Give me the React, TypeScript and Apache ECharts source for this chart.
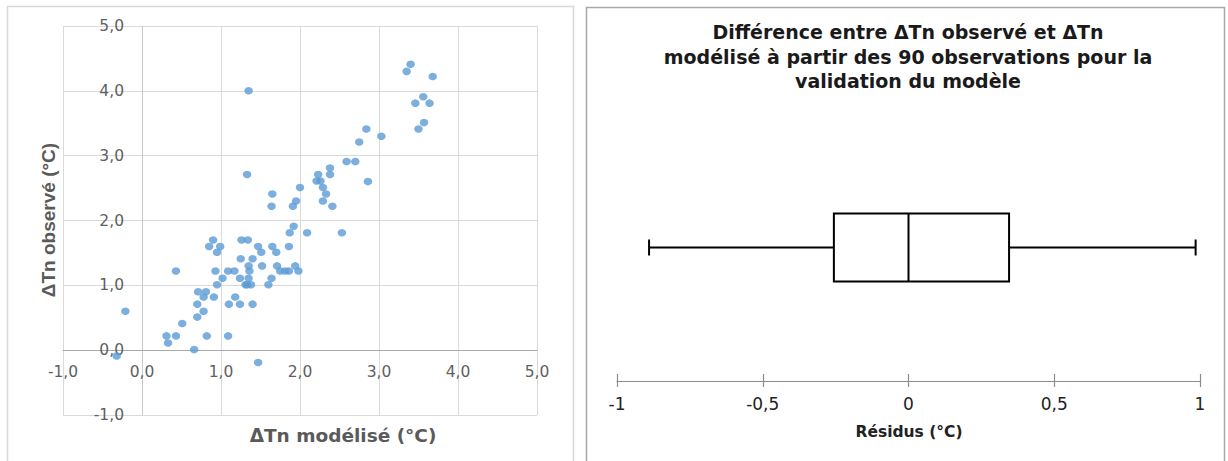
import React, { useEffect, useRef } from "react";
import * as echarts from "echarts";

const modeledX = [
  3.40, 3.35, 3.68, 1.35, 3.56, 3.46, 3.64, 3.57, 3.50, 2.84,
  3.03, 2.75, 2.59, 2.70, 2.38, 2.38, 2.86, 1.33, 2.23, 2.21,
  2.26, 2.29, 2.33, 2.29, 2.41, 1.65, 1.64, 2.00, 1.95, 1.91,
  1.92, 1.87, 2.09, 2.53, 0.90, 1.26, 1.34, 0.85, 0.99, 0.95,
  1.47, 1.51, 1.65, 1.70, 1.86, 1.25, 1.40, 1.35, 1.52, 1.71,
  1.94, 0.43, 0.93, 1.09, 1.17, 1.36, 1.75, 1.81, 1.86, 1.98,
  1.02, 1.24, 1.35, 1.64, 0.95, 1.31, 1.38, 1.60, 0.71, 0.81,
  0.78, 0.91, 1.18, 0.70, 1.10, 1.24, 1.40, -0.21, 0.78, 0.70,
  0.51, 0.31, 0.43, 0.82, 1.09, 0.33, 0.66, -0.32, 1.47, 1.33,
];
const observedY = [
  4.41, 4.30, 4.22, 4.00, 3.91, 3.81, 3.81, 3.51, 3.41, 3.41,
  3.30, 3.21, 2.91, 2.91, 2.81, 2.71, 2.60, 2.71, 2.71, 2.61,
  2.61, 2.51, 2.41, 2.30, 2.22, 2.41, 2.22, 2.51, 2.30, 2.22,
  1.91, 1.81, 1.81, 1.81, 1.70, 1.70, 1.70, 1.60, 1.60, 1.51,
  1.60, 1.51, 1.60, 1.51, 1.60, 1.41, 1.41, 1.30, 1.30, 1.30,
  1.30, 1.22, 1.22, 1.22, 1.22, 1.22, 1.22, 1.22, 1.22, 1.22,
  1.11, 1.11, 1.11, 1.11, 1.01, 1.01, 1.01, 1.01, 0.90, 0.90,
  0.82, 0.82, 0.82, 0.71, 0.71, 0.71, 0.71, 0.60, 0.60, 0.51,
  0.41, 0.22, 0.22, 0.22, 0.22, 0.11, 0.01, -0.09, -0.19, 1.01,
];

// Boîte à moustaches des résidus : min, Q1, médiane, Q3, max
const residualCategories = ["Résidus"];
const residualStats = [-0.89, -0.256, 0.0, 0.345, 0.985];

const scatterAxisMin = -1;
const scatterAxisMax = 5;
const scatterInterval = 1;
const residualAxisMin = -1;
const residualAxisMax = 1;
const residualInterval = 0.5;

const scatterXName = "ΔTn modélisé (°C)";
const scatterYName = "ΔTn observé (°C)";
const residualTitle =
  "Différence entre ΔTn observé et ΔTn\nmodélisé à partir des 90 observations pour la\nvalidation du modèle";
const residualXName = "Résidus (°C)";

const WIDE_BOLD = "'DejaVu Sans', sans-serif";
const NARROW_BOLD = "'Liberation Sans', Arial, sans-serif";
const TICK_FONT = "'DejaVu Sans', sans-serif";

// scatter grid geometry
const G0 = { left: 63, top: 26, width: 474, height: 389 };

export default function App() {
  const ref = useRef<HTMLDivElement>(null);

  useEffect(() => {
    if (!ref.current) return;
    const chart = echarts.init(ref.current, null, { renderer: "svg" });

    const points = modeledX.map((x, i) => [x, observedY[i]]);
    const fmt1 = (v: number) => v.toFixed(1).replace(".", ",");
    const fmtRes = (v: number) => (v === 0 ? "0" : String(v).replace(".", ","));

    // shift the axes so they sit on the other axis' zero
    const span = scatterAxisMax - scatterAxisMin;
    const xAxisOffset = -((0 - scatterAxisMin) / span) * G0.height;
    const yAxisOffset = -((0 - scatterAxisMin) / span) * G0.width;

    chart.setOption({
      animation: false,
      backgroundColor: "#ffffff",
      title: {
        text: residualTitle,
        left: 908,
        top: 20,
        textAlign: "center",
        padding: 0,
        textStyle: {
          fontFamily: WIDE_BOLD,
          fontSize: 19,
          fontWeight: "bold",
          color: "#1a1a1a",
          lineHeight: 24.5,
        },
      },
      grid: [
        { ...G0 },
        { left: 617, top: 114, width: 583, height: 267 },
      ],
      xAxis: [
        {
          gridIndex: 0,
          type: "value",
          position: "bottom",
          offset: xAxisOffset,
          min: scatterAxisMin,
          max: scatterAxisMax,
          interval: scatterInterval,
          axisLine: { onZero: false, lineStyle: { color: "#a8a8a8", width: 1 } },
          axisTick: { show: false },
          splitLine: { lineStyle: { color: "#dadada", width: 1 } },
          axisLabel: {
            formatter: fmt1,
            color: "#5f5f5f",
            fontSize: 15.5,
            fontFamily: TICK_FONT,
            margin: 14,
          },
        },
        {
          gridIndex: 1,
          type: "value",
          position: "bottom",
          min: residualAxisMin,
          max: residualAxisMax,
          interval: residualInterval,
          axisLine: { show: true, lineStyle: { color: "#8c8c8c", width: 1.2 } },
          axisTick: { show: true, length: 6, lineStyle: { color: "#8c8c8c", width: 1.2 } },
          splitLine: { show: false },
          axisLabel: {
            formatter: fmtRes,
            color: "#222222",
            fontSize: 17,
            fontFamily: TICK_FONT,
            margin: 14,
          },
        },
        {
          gridIndex: 1,
          type: "value",
          position: "bottom",
          min: residualAxisMin,
          max: residualAxisMax,
          interval: residualInterval,
          axisLine: { show: false },
          axisTick: { show: true, inside: true, length: 7, lineStyle: { color: "#8c8c8c", width: 1.2 } },
          splitLine: { show: false },
          axisLabel: { show: false },
        },
      ],
      yAxis: [
        {
          gridIndex: 0,
          type: "value",
          position: "left",
          offset: yAxisOffset,
          min: scatterAxisMin,
          max: scatterAxisMax,
          interval: scatterInterval,
          axisLine: { show: true, onZero: false, lineStyle: { color: "#c8c8c8", width: 1 } },
          axisTick: { show: false },
          splitLine: { lineStyle: { color: "#dadada", width: 1 } },
          axisLabel: {
            formatter: fmt1,
            color: "#5f5f5f",
            fontSize: 15.5,
            fontFamily: TICK_FONT,
            margin: 18,
          },
        },
        {
          gridIndex: 1,
          type: "category",
          data: residualCategories,
          show: false,
        },
      ],
      graphic: [
        {
          type: "rect",
          shape: { x: 7.5, y: 6.5, width: 566, height: 470 },
          style: { fill: "none", stroke: "#d9d9d9", lineWidth: 1.5 },
          silent: true,
          z: -10,
        },
        {
          type: "rect",
          shape: { x: 586.5, y: 7.5, width: 638, height: 470 },
          style: { fill: "none", stroke: "#a8a8a8", lineWidth: 1.5 },
          silent: true,
          z: -10,
        },
        {
          type: "text",
          x: 343,
          y: 435,
          style: {
            text: scatterXName,
            fontFamily: WIDE_BOLD,
            fontSize: 18.5,
            fontWeight: "bold",
            fill: "#5a5a5a",
            textAlign: "center",
            textVerticalAlign: "middle",
          },
        },
        {
          type: "text",
          x: 48,
          y: 220,
          rotation: Math.PI / 2,
          style: {
            text: scatterYName,
            fontFamily: NARROW_BOLD,
            fontSize: 19,
            fontWeight: "bold",
            fill: "#5a5a5a",
            textAlign: "center",
            textVerticalAlign: "middle",
          },
        },
        {
          type: "text",
          x: 909,
          y: 432,
          style: {
            text: residualXName,
            fontFamily: WIDE_BOLD,
            fontSize: 15.5,
            fontWeight: "bold",
            fill: "#222222",
            textAlign: "center",
            textVerticalAlign: "middle",
          },
        },
      ],
      series: [
        {
          type: "scatter",
          xAxisIndex: 0,
          yAxisIndex: 0,
          data: points,
          symbol: "circle",
          symbolSize: [8.5, 7.5],
          itemStyle: { color: "#5b9bd5" },
        },
        {
          type: "custom",
          xAxisIndex: 1,
          yAxisIndex: 1,
          data: [[0, ...residualStats]],
          encode: { x: [1, 2, 3, 4, 5], y: 0 },
          renderItem: (params: any, api: any) => {
            const cat = api.value(0);
            const pMin = api.coord([api.value(1), cat]);
            const pQ1 = api.coord([api.value(2), cat]);
            const pMed = api.coord([api.value(3), cat]);
            const pQ3 = api.coord([api.value(4), cat]);
            const pMax = api.coord([api.value(5), cat]);
            const cy = pMed[1];
            const halfBox = 34;
            const halfCap = 8;
            const st = { stroke: "#000000", lineWidth: 2, fill: "none" };
            return {
              type: "group",
              children: [
                { type: "line", shape: { x1: pMin[0], y1: cy, x2: pQ1[0], y2: cy }, style: st },
                { type: "line", shape: { x1: pQ3[0], y1: cy, x2: pMax[0], y2: cy }, style: st },
                { type: "line", shape: { x1: pMin[0], y1: cy - halfCap, x2: pMin[0], y2: cy + halfCap }, style: st },
                { type: "line", shape: { x1: pMax[0], y1: cy - halfCap, x2: pMax[0], y2: cy + halfCap }, style: st },
                {
                  type: "rect",
                  shape: { x: pQ1[0], y: cy - halfBox, width: pQ3[0] - pQ1[0], height: halfBox * 2 },
                  style: st,
                },
                { type: "line", shape: { x1: pMed[0], y1: cy - halfBox, x2: pMed[0], y2: cy + halfBox }, style: st },
              ],
            };
          },
        },
      ],
    });

    return () => chart.dispose();
  }, []);

  return (
    <div
      ref={ref}
      style={{ position: "fixed", left: 0, top: 0, width: 1228, height: 461 }}
    />
  );
}
